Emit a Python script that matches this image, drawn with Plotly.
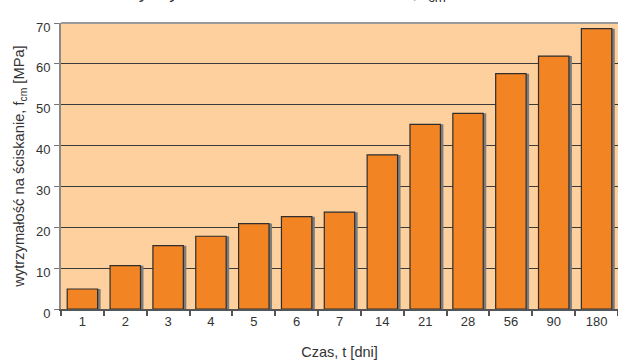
import plotly.graph_objects as go

categories = ["1", "2", "3", "4", "5", "6", "7", "14", "21", "28", "56", "90", "180"]
strength = [4.9, 10.6, 15.5, 17.8, 20.9, 22.6, 23.7, 37.7, 45.2, 47.9, 57.6, 61.9, 68.6]
y_ticks = [0, 10, 20, 30, 40, 50, 60, 70]

FONT = "Liberation Sans, Arial, Helvetica, sans-serif"
BAR_W = 0.71

fig = go.Figure()
# shadow
fig.add_trace(go.Bar(
    x=categories, y=strength, width=BAR_W, offset=-BAR_W / 2 + 0.07,
    marker=dict(color="#7d7d7d", line=dict(width=0)), hoverinfo="skip", showlegend=False,
))
# main bars
fig.add_trace(go.Bar(
    x=categories, y=strength, width=BAR_W, offset=-BAR_W / 2,
    marker=dict(color="#F38424", line=dict(color="#2e2e2e", width=1.2)), showlegend=False,
))

fig.update_layout(
    width=618, height=364,
    margin=dict(l=61, r=0, t=23, b=55),
    barmode="overlay",
    paper_bgcolor="white",
    plot_bgcolor="#FDD09E",
    font=dict(family=FONT, size=13, color="#333333"),
    xaxis=dict(
        type="category", tickson="boundaries", ticks="outside", ticklen=5,
        tickcolor="#555555", tickwidth=1.5,
        showline=True, linecolor="#555555", linewidth=1.5,
        showgrid=False, tickfont=dict(size=13, color="#333333"),
        title=dict(text="Czas, t [dni]", font=dict(size=14.5, color="#333333"), standoff=19),
    ),
    yaxis=dict(
        range=[0, 70], tickvals=y_ticks, ticks="outside", ticklen=5,
        tickcolor="#777777", tickwidth=1, ticklabelshift=4, ticklabelstandoff=1,
        showline=True, linecolor="#8a8a8a", linewidth=2,
        showgrid=True, gridcolor="#3a3a3a", gridwidth=1.2, zeroline=False,
        tickfont=dict(size=13, color="#333333"),
        title=dict(text="wytrzymałość na ściskanie, f<sub>cm</sub> [MPa]",
                   font=dict(size=14.7, color="#333333"), standoff=8),
    ),
    shapes=[dict(type="line", xref="paper", yref="paper", x0=0, x1=1, y0=1, y1=1,
                 line=dict(color="#9a9a9a", width=2))],
    annotations=[dict(
        text="Wytrzymałość betonu na ściskanie, f<sub>cm</sub>",
        xref="paper", yref="paper", x=(119 - 61) / 557, y=1 + 16 / 286,
        xanchor="left", yanchor="bottom", showarrow=False,
        font=dict(size=19, color="#333333"),
    )],
)

fig.write_html("out.html")
